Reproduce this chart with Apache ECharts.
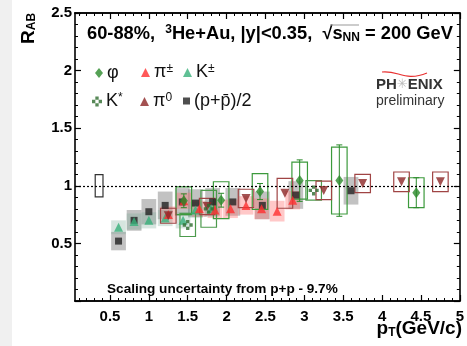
<!DOCTYPE html>
<html><head><meta charset="utf-8">
<script src="https://cdn.jsdelivr.net/npm/echarts@6/dist/echarts.min.js"></script>
<style>html,body{margin:0;padding:0;background:#fff}#c{width:467px;height:346px}</style>
</head><body><div id="c"></div>
<script>
// ---------- data ----------
const xTickLabels = [0.5, 1, 1.5, 2, 2.5, 3, 3.5, 4, 4.5, 5];
const yTickLabels = [0.5, 1, 1.5, 2, 2.5];

// phi: pT, RAB, stat, sys
const phiX    = [1.45, 1.93, 2.43, 2.94, 3.45, 4.44];
const phiY    = [0.87, 0.875, 0.95, 1.045, 1.045, 0.94];
const phiStat = [0.06, 0.06, 0.07, 0.18, 0.31, 0.13];
const phiSys  = [0.12, 0.16, 0.155, 0.16, 0.29, 0.13];

// K*
const kstX   = [1.5, 1.77, 3.12];
const kstY   = [0.66, 0.80, 0.96];
const kstSys = [0.10, 0.16, 0.085];

// pi0
const pi0X   = [1.25, 1.75, 2.25, 2.75, 3.25, 3.75, 4.25, 4.75];
const pi0Y   = [0.74, 0.82, 0.89, 0.935, 0.96, 1.02, 1.035, 1.035];
const pi0Sys = [0.065, 0.07, 0.08, 0.13, 0.08, 0.08, 0.085, 0.085];

// pi+-
const pipmX   = [1.25, 1.45, 1.65, 1.85, 2.05, 2.25, 2.45, 2.65, 2.85];
const pipmY   = [0.75, 0.87, 0.80, 0.79, 0.80, 0.83, 0.80, 0.78, 0.875];
const pipmSys = [0.07, 0.07, 0.07, 0.07, 0.08, 0.08, 0.09, 0.09, 0.08];

// K+-
const kpmX   = [0.61, 0.81, 1.0, 1.21, 1.44, 1.6, 1.8];
const kpmY   = [0.64, 0.69, 0.70, 0.72, 0.70, 0.79, 0.80];
const kpmSys = [0.06, 0.07, 0.07, 0.07, 0.07, 0.07, 0.07];

// (p+pbar)/2
const protX   = [0.61, 0.81, 1.0, 1.21, 1.43, 1.6, 1.82, 2.08, 2.46, 2.89, 3.6];
const protY   = [0.52, 0.70, 0.775, 0.83, 0.86, 0.85, 0.86, 0.86, 0.83, 0.92, 0.957];
const protSys = [0.08, 0.09, 0.11, 0.12, 0.12, 0.12, 0.12, 0.12, 0.12, 0.12, 0.12];

// global scaling uncertainty box
const globX = [0.36], globY = [1.0], globSys = [0.097];

// ---------- chart ----------
const chart = echarts.init(document.getElementById('c'), null, {renderer:'canvas'});
const F = 'Liberation Sans, Arial, Helvetica, sans-serif';

const zip = (xs, ys, es) => xs.map((x,i)=>[x, ys[i], es ? es[i] : 0]);

function boxSeries(name, xs, ys, es, halfW, style, z) {
  return {
    type: 'custom', name: name, z: z || 2, silent: true,
    data: zip(xs, ys, es),
    renderItem: function (params, api) {
      const x = api.value(0), y = api.value(1), e = api.value(2);
      const p1 = api.coord([x - halfW, y + e]);
      const p2 = api.coord([x + halfW, y - e]);
      return { type: 'rect', shape: {x:p1[0], y:p1[1], width:p2[0]-p1[0], height:p2[1]-p1[1]}, style: style };
    }
  };
}
function errSeries(name, xs, ys, es, color) {
  return {
    type: 'custom', name: name, z: 4, silent: true,
    data: zip(xs, ys, es),
    renderItem: function (params, api) {
      const x = api.value(0), y = api.value(1), e = api.value(2);
      const t = api.coord([x, y + e]), b = api.coord([x, y - e]);
      return { type: 'group', children: [
        {type:'line', shape:{x1:t[0], y1:t[1], x2:b[0], y2:b[1]}, style:{stroke:color, lineWidth:1}},
        {type:'line', shape:{x1:t[0]-3, y1:t[1], x2:t[0]+3, y2:t[1]}, style:{stroke:color, lineWidth:1}},
        {type:'line', shape:{x1:b[0]-3, y1:b[1], x2:b[0]+3, y2:b[1]}, style:{stroke:color, lineWidth:1}}
      ]};
    }
  };
}
const kstarPath = 'path://M3,0H6V3H3Z M0,3H3V6H0Z M6,3H9V6H6Z M3,6H6V9H3Z';

const C = {phi:'#2b8a2b', pipm:'#ff3030', kpm:'#38b07a', kst:'#2e6b2e', pi0:'#8c2626', p:'#222222'};

const series = [
  boxSeries('pSys', protX, protY, protSys, 0.095, {fill:'rgba(110,110,110,0.42)'}, 1),
  boxSeries('pipmSys', pipmX, pipmY, pipmSys, 0.095, {fill:'rgba(255,110,110,0.38)'}, 1),
  boxSeries('kpmSys', kpmX, kpmY, kpmSys, 0.095, {fill:'rgba(120,170,150,0.3)'}, 1),
  boxSeries('glob', globX, globY, globSys, 0.05, {fill:'none', stroke:'#333', lineWidth:1.2}, 3),
  boxSeries('phiSys', phiX, phiY, phiSys, 0.1, {fill:'none', stroke:'#3c9a3c', lineWidth:1.2}, 3),
  boxSeries('kstSys', kstX, kstY, kstSys, 0.1, {fill:'none', stroke:'#4c9a4c', lineWidth:1.2}, 3),
  boxSeries('pi0Sys', pi0X, pi0Y, pi0Sys, 0.1, {fill:'none', stroke:'#a04444', lineWidth:1.2}, 3),
  errSeries('phiErr', phiX, phiY, phiStat, '#2b8a2b'),
  {type:'scatter', name:'p', symbol:'rect', symbolSize:7, itemStyle:{color:C.p}, z:5, data: zip(protX, protY)},
  {type:'scatter', name:'kpm', symbol:'triangle', symbolSize:9, itemStyle:{color:C.kpm}, z:5, data: zip(kpmX, kpmY)},
  {type:'scatter', name:'pipm', symbol:'triangle', symbolSize:9, itemStyle:{color:C.pipm}, z:5, data: zip(pipmX, pipmY)},
  {type:'scatter', name:'pi0', symbol:'triangle', symbolRotate:180, symbolSize:9, itemStyle:{color:C.pi0}, z:5, data: zip(pi0X, pi0Y)},
  {type:'scatter', name:'kst', symbol:kstarPath, symbolSize:10, itemStyle:{color:C.kst}, z:5, data: zip(kstX, kstY)},
  {type:'scatter', name:'phi', symbol:'diamond', symbolSize:[8,11], itemStyle:{color:C.phi}, z:6, data: zip(phiX, phiY),
   markLine:{silent:true, symbol:'none', label:{show:false}, lineStyle:{color:'#000', type:[2,2], width:1.2}, data:[{yAxis:1}]}}
];

function range(a, b, s){ const r=[]; for(let v=a; v<=b+1e-9; v+=s) r.push(Math.round(v*100)/100); return r; }
const xMinor = range(0.1, 5, 0.1);

const baseX = {type:'value', min:0.05, max:5, splitLine:{show:false},
  axisLine:{show:true, onZero:false, lineStyle:{color:'#000', width:1.6}}};
const baseY = {type:'value', min:0, max:2.5, interval:0.5, splitLine:{show:false},
  axisLine:{show:true, onZero:false, lineStyle:{color:'#000', width:1.6}}};

function legend(name, label, left, cy, iconW, iconH) {
  return {show:true, data:[name], left:left, top:cy-10, padding:0, itemGap:0,
    itemWidth:iconW||9, itemHeight:iconH||9, selectedMode:false,
    formatter: () => label,
    textStyle:{fontFamily:F, fontSize:18, color:'#111', padding:[0,0,0,-1],
      rich:{sup:{fontFamily:F, fontSize:12, color:'#111', verticalAlign:'top', padding:[0,0,7,0]},
            t:{fontFamily:F, fontSize:18, color:'#111'}}}};
}

const option = {
  backgroundColor:'#fff',
  animation:false,
  grid:{left:75, right:4, top:13, bottom:45, containLabel:false},
  xAxis:[
    Object.assign({}, baseX, {position:'bottom',
      axisTick:{show:true, inside:true, length:6, customValues:xTickLabels, lineStyle:{color:'#000', width:1.2}},
      axisLabel:{show:true, customValues:xTickLabels, margin:8, color:'#000', fontFamily:F, fontWeight:'bold', fontSize:15}}),
    Object.assign({}, baseX, {position:'bottom',
      axisTick:{show:true, inside:true, length:3, customValues:xMinor, lineStyle:{color:'#000', width:1}},
      axisLabel:{show:false}}),
    Object.assign({}, baseX, {position:'top',
      axisTick:{show:true, inside:true, length:6, customValues:xTickLabels, lineStyle:{color:'#000', width:1.2}},
      axisLabel:{show:false}}),
    Object.assign({}, baseX, {position:'top',
      axisTick:{show:true, inside:true, length:3, customValues:xMinor, lineStyle:{color:'#000', width:1}},
      axisLabel:{show:false}})
  ],
  yAxis:[
    Object.assign({}, baseY, {position:'left',
      axisTick:{show:true, inside:true, length:6, lineStyle:{color:'#000', width:1.2}},
      minorTick:{show:true, splitNumber:5, length:3, lineStyle:{color:'#000', width:1}},
      axisLabel:{show:true, margin:3, color:'#000', fontFamily:F, fontWeight:'bold', fontSize:15,
        formatter: v => (yTickLabels.indexOf(v) >= 0 ? String(v) : '')}}),
    Object.assign({}, baseY, {position:'right',
      axisTick:{show:true, inside:true, length:6, lineStyle:{color:'#000', width:1.2}},
      minorTick:{show:true, splitNumber:5, length:3, lineStyle:{color:'#000', width:1}},
      axisLabel:{show:false}})
  ],
  legend:[
    legend('phi', 'φ', 95, 74, 8, 10),
    legend('pipm', 'π{sup|±}', 141, 73, 9, 9),
    legend('kpm', 'K{sup|±}', 183, 73, 9, 9),
    legend('kst', 'K{sup|*}', 92, 102, 10, 10),
    legend('pi0', 'π{sup|0}', 140, 102, 9, 9),
    legend('p', '(p+p\u0304)/2', 183, 102, 7, 7)
  ],
  series: series,
  graphic:[
    {type:'rect', left:0, top:0, shape:{width:12, height:346}, style:{fill:'#f0f0f0'}, z:-10, silent:true},
    // title
    {type:'text', left:87, top:24, z:10, style:{
      text:'{a|60-88%,  }{sup|3}{a|He+Au, |y|<0.35,  √}{a|s}{sub|NN}{a| = 200 GeV}',
      rich:{a:{fontFamily:F, fontWeight:'bold', fontSize:18.3, fill:'#000'},
            sup:{fontFamily:F, fontWeight:'bold', fontSize:12, fill:'#000', verticalAlign:'top', padding:[0,0,8,0]},
            sub:{fontFamily:F, fontWeight:'bold', fontSize:12, fill:'#000', verticalAlign:'bottom', padding:[7,0,0,0]}}}},
    {type:'line', z:10, shape:{x1:330, y1:25, x2:359, y2:25}, style:{stroke:'#999', lineWidth:1}},
    // R_AB
    {type:'text', x:38, y:44, rotation:Math.PI/2, z:10, style:{
      text:'{r|R}{s|AB}', align:'left', verticalAlign:'bottom',
      rich:{r:{fontFamily:F, fontWeight:'bold', fontSize:19, fill:'#000'},
            s:{fontFamily:F, fontWeight:'bold', fontSize:12, fill:'#000', verticalAlign:'bottom', padding:[6,0,0,0]}}}},
    // pT axis title
    {type:'text', right:5, top:319, z:10, style:{
      text:'{a|p}{s|T}{a|(GeV/c)}',
      rich:{a:{fontFamily:F, fontWeight:'bold', fontSize:19, fill:'#000'},
            s:{fontFamily:F, fontWeight:'bold', fontSize:12, fill:'#000', verticalAlign:'bottom', padding:[8,0,0,0]}}}},
    // scaling text
    {type:'text', left:107, top:282, z:10, style:{text:'Scaling uncertainty from p+p - 9.7%', fontFamily:F, fontWeight:'bold', fontSize:13.6, fill:'#000'}},
    // PHENIX logo
    {type:'text', left:376, top:77, z:10, style:{text:'{a|PH}{st|✳}{a|ENIX}',
      rich:{a:{fontFamily:F, fontWeight:'bold', fontSize:15, fill:'#333'},
            st:{fontFamily:'DejaVu Sans', fontSize:13, fill:'#bbb'}}}},
    {type:'text', left:376, top:94, z:10, style:{text:'preliminary', fontFamily:F, fontSize:14, fill:'#333'}},
    {type:'bezierCurve', z:10, shape:{x1:382, y1:72, x2:427, y2:73, cpx1:398, cpy1:70, cpx2:405, cpy2:82}, style:{stroke:'#e83030', lineWidth:1.2, fill:'none'}}
  ]
};
chart.setOption(option);
</script>
</body></html>
